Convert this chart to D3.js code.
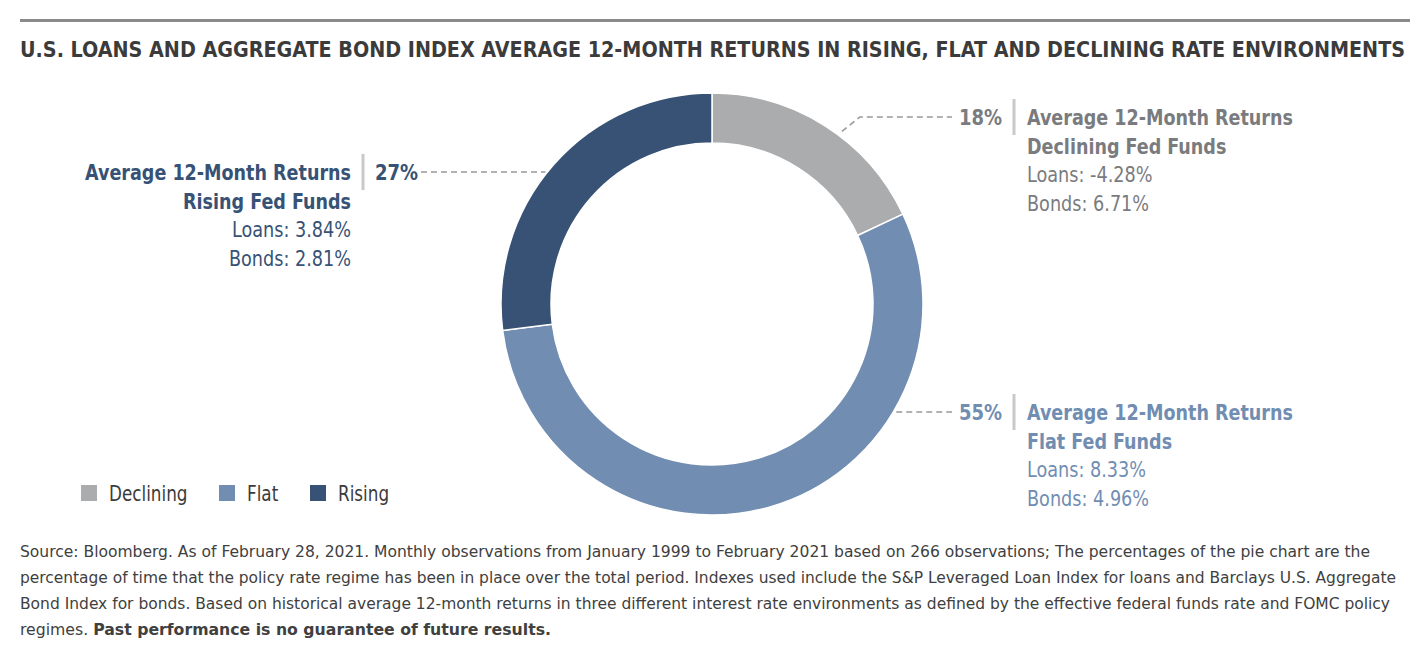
<html>
<head>
<meta charset="utf-8">
<title>Loans and bonds by rate regime</title>
<script src="https://d3js.org/d3.v7.min.js"></script>
<style>
body { margin:0; background:#fff; }
svg text { font-family:"DejaVu Sans Condensed","Roboto",sans-serif; }
.rule { stroke:#8a8a8a; stroke-width:3; }
.title { font-size:20.5px; font-weight:bold; fill:#3b3b3b; }
.leader { fill:none; stroke:#999; stroke-width:1.6; stroke-dasharray:6,4; }
.bar { stroke:#c9c9c9; stroke-width:3; }
.lbl-head { font-size:22px; font-weight:bold; }
.lbl-body { font-size:21px; }
.legend text { font-size:21px; fill:#3b3b3b; }
.note { font-size:16.5px; fill:#404040; }
</style>
</head>
<body>
<script>
var regimes = ['Declining', 'Flat', 'Rising'];
var shares = [18, 55, 27];
var loanReturns = [-4.28, 8.33, 3.84];
var bondReturns = [6.71, 4.96, 2.81];
var sliceColors = ['#abacae', '#718db2', '#375275'];
var textColors = ['#7a7b7e', '#718db2', '#375275'];

var title = 'U.S. LOANS AND AGGREGATE BOND INDEX AVERAGE 12-MONTH RETURNS IN RISING, FLAT AND DECLINING RATE ENVIRONMENTS';
var notes = [
	'Source: Bloomberg. As of February 28, 2021. Monthly observations from January 1999 to February 2021 based on 266 observations; The percentages of the pie chart are the',
	'percentage of time that the policy rate regime has been in place over the total period. Indexes used include the S&P Leveraged Loan Index for loans and Barclays U.S. Aggregate',
	'Bond Index for bonds. Based on historical average 12-month returns in three different interest rate environments as defined by the effective federal funds rate and FOMC policy',
	'regimes. '
];
var noteBold = 'Past performance is no guarantee of future results.';

var W = 1424, H = 661,
	cx = 712, cy = 304, outerR = 211, innerR = 161;

var svg = d3.select('body').append('svg').attr('width', W).attr('height', H);

// fit a text element to a pixel width
function fit(sel, w){
	sel.attr('textLength', w).attr('lengthAdjust', 'spacingAndGlyphs');
}
// text narrowed horizontally by k (the font is wider than the original one)
function label(parent, x, y, str, cls, k, anchor){
	return parent.append('text')
		.attr('transform', 'translate(' + x + ',' + y + ') scale(' + k + ',1)')
		.attr('text-anchor', anchor || 'start')
		.attr('class', cls)
		.text(str);
}

svg.append('line').attr('class','rule').attr('x1',20).attr('x2',1410).attr('y1',20.5).attr('y2',20.5);
svg.append('text').attr('class','title').attr('x',20).attr('y',57).text(title).call(fit, 1385);

var data = regimes.map(function(r, i){
	return { name:r, share:shares[i], loans:loanReturns[i], bonds:bondReturns[i], color:sliceColors[i], text:textColors[i] };
});

var pie = d3.pie().sort(null).value(function(d){ return d.share; });
var arc = d3.arc().innerRadius(innerR).outerRadius(outerR);
var arcs = pie(data);

var donut = svg.append('g').attr('transform', 'translate(' + cx + ',' + cy + ')');
donut.selectAll('path')
	.data(arcs)
	.enter()
	.append('path')
		.attr('d', arc)
		.attr('fill', function(d){ return d.data.color; })
		.attr('stroke', '#fff')
		.attr('stroke-width', 1.5);

// label layout: side, baseline of first line
var layout = {
	Declining: { side:'right', y:125, elbow:true },
	Flat:      { side:'right', y:420 },
	Rising:    { side:'left',  y:180 }
};

var fmt = function(v){ return v.toFixed(2) + '%'; };

arcs.forEach(function(a){
	var d = a.data, L = layout[d.name];
	var ly = L.y - 8, dy = ly - cy;
	var g = svg.append('g').attr('fill', d.text);
	var pts, tx, anchor;
	if (L.side === 'right') {
		if (L.elbow) {
			var ang = (a.startAngle + a.endAngle) / 2 + 0.08;
			var ex = cx + Math.sin(ang) * (outerR + 5), ey = cy - Math.cos(ang) * (outerR + 5);
			pts = [[ex, ey], [ex + 18, ly], [952, ly]];
		} else {
			pts = [[cx + Math.sqrt(outerR * outerR - dy * dy) + 3, ly], [952, ly]];
		}
		label(g, 1002, L.y, d.share + '%', 'lbl-head', 0.91, 'end');
		svg.append('line').attr('class','bar').attr('x1',1014).attr('x2',1014).attr('y1',L.y-26).attr('y2',L.y+10);
		tx = 1027; anchor = 'start';
	} else {
		pts = [[421, ly], [cx - Math.sqrt(outerR * outerR - dy * dy) - 2, ly]];
		label(g, 375, L.y, d.share + '%', 'lbl-head', 0.91);
		svg.append('line').attr('class','bar').attr('x1',363).attr('x2',363).attr('y1',L.y-26).attr('y2',L.y+10);
		tx = 351; anchor = 'end';
	}
	svg.append('path').attr('class','leader').attr('d', d3.line()(pts));
	var lines = [
		['Average 12-Month Returns', 'lbl-head', 0.887],
		[d.name + ' Fed Funds', 'lbl-head', 0.887],
		['Loans: ' + fmt(d.loans), 'lbl-body', 0.935],
		['Bonds: ' + fmt(d.bonds), 'lbl-body', 0.935]
	];
	lines.forEach(function(l, i){
		label(g, tx, L.y + i * 28.5, l[0], l[1], l[2], anchor);
	});
});

// legend
var legendX = [81, 219, 310];
var legend = svg.append('g').attr('class','legend');
data.forEach(function(d, i){
	legend.append('rect').attr('x', legendX[i]).attr('y', 485).attr('width', 16).attr('height', 16).attr('fill', d.color);
	label(legend, legendX[i] + 28, 501, d.name, null, 0.89);
});

// footnote
var noteWidths = [1350, 1376, 1370, 531];
notes.forEach(function(t, i){
	var el = svg.append('text').attr('class','note').attr('x', 20).attr('y', 557 + i * 26).text(t);
	if (i === 3) el.append('tspan').attr('font-weight','bold').text(noteBold);
	el.call(fit, noteWidths[i]);
});
</script>
</body>
</html>
